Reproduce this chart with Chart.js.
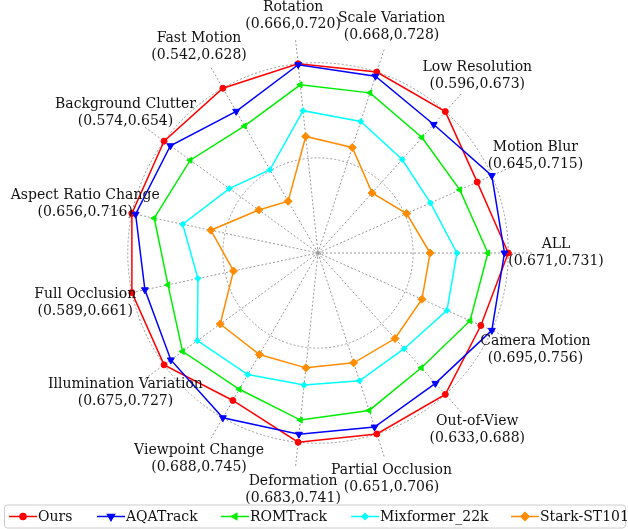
<!DOCTYPE html>
<html>
<head>
<meta charset="utf-8">
<script src="https://cdn.jsdelivr.net/npm/chart.js@4.4.0/dist/chart.umd.min.js"></script>
<style>
    html, body { margin: 0; padding: 0; background: #fff; }
    #wrap { width: 628px; height: 529px; position: relative; }
</style>
</head>
<body>
<div id="wrap"><canvas id="radar"></canvas></div>
<script>
// Attribute axes, clockwise starting from the right (ALL)
const attributes = [
    'ALL', 'Camera Motion', 'Out-of-View', 'Partial Occlusion', 'Deformation',
    'Viewpoint Change', 'Illumination Variation', 'Full Occlusion', 'Aspect Ratio Change',
    'Background Clutter', 'Fast Motion', 'Rotation', 'Scale Variation', 'Low Resolution', 'Motion Blur'
];
const axisRanges = [
    '(0.671,0.731)', '(0.695,0.756)', '(0.633,0.688)', '(0.651,0.706)', '(0.683,0.741)',
    '(0.688,0.745)', '(0.675,0.727)', '(0.589,0.661)', '(0.656,0.716)',
    '(0.574,0.654)', '(0.542,0.628)', '(0.666,0.720)', '(0.668,0.728)', '(0.596,0.673)', '(0.645,0.715)'
];

// Normalised radial position of each tracker on each axis (1 = outer ring)
const ours      = [1.00, 0.937, 1.00, 1.00, 1.00, 0.895, 1.00, 1.00, 1.00, 1.00, 1.00, 1.00, 1.00, 1.00, 0.916];
const aqaTrack  = [0.98, 1.00, 0.922, 0.962, 0.958, 1.00, 0.956, 0.93, 0.98, 0.959, 0.86, 0.995, 0.977, 0.909, 1.00];
const romTrack  = [0.893, 0.875, 0.812, 0.87, 0.883, 0.827, 0.88, 0.806, 0.88, 0.83, 0.771, 0.889, 0.885, 0.817, 0.816];
const mixformer = [0.73, 0.742, 0.677, 0.706, 0.698, 0.738, 0.784, 0.645, 0.727, 0.576, 0.505, 0.752, 0.727, 0.661, 0.647];
const stark     = [0.589, 0.598, 0.605, 0.607, 0.607, 0.616, 0.635, 0.454, 0.576, 0.385, 0.314, 0.616, 0.583, 0.425, 0.51];

const seriesNames = ['Ours', 'AQATrack', 'ROMTrack', 'Mixformer_22k', 'Stark-ST101'];
const seriesData = [ours, aqaTrack, romTrack, mixformer, stark];
const seriesColors = ['#ff0000', '#0000ff', '#00ee00', '#00ffff', '#ff8c00'];
const seriesMarkers = [
    { style: 'circle', radius: 3, rotation: 0 },
    { style: 'triangle', radius: 4, rotation: 180 },
    { style: 'triangle', radius: 3.5, rotation: -90 },
    { style: 'rectRot', radius: 3, rotation: 0 },
    { style: 'rectRot', radius: 4, rotation: 0 },
];

const FONT = '14px "DejaVu Serif", serif';
const LABEL_DIST = 238;

// Two-line axis labels, centred on a fixed radius
const axisLabelPlugin = {
    id: 'axisLabels',
    afterDraw(chart) {
        const scale = chart.scales.r;
        const ctx = chart.ctx;
        ctx.save();
        ctx.font = FONT;
        ctx.fillStyle = '#111';
        ctx.textAlign = 'center';
        ctx.textBaseline = 'middle';
        attributes.forEach((name, i) => {
            const p = scale.getPointPosition(i, LABEL_DIST);
            ctx.fillText(name, p.x, p.y - 8.5);
            ctx.fillText(axisRanges[i], p.x, p.y + 8.5);
        });
        ctx.restore();
    }
};

// Framed legend along the bottom, line + marker handles
const legendPlugin = {
    id: 'boxLegend',
    afterDraw(chart) {
        const ctx = chart.ctx;
        const top = 505, bottom = 528, left = 4.5, right = 625.5;
        ctx.save();
        ctx.strokeStyle = '#cccccc';
        ctx.lineWidth = 1;
        ctx.beginPath();
        ctx.roundRect(left, top, right - left, bottom - top, 3);
        ctx.fillStyle = 'rgba(255,255,255,0.8)';
        ctx.fill();
        ctx.stroke();

        const yMid = (top + bottom) / 2;
        const handleStarts = [9, 97, 221, 351, 511];
        ctx.font = FONT;
        ctx.textBaseline = 'middle';
        ctx.textAlign = 'left';
        seriesNames.forEach((name, i) => {
            const x0 = handleStarts[i];
            const x1 = x0 + 28;
            ctx.strokeStyle = seriesColors[i];
            ctx.lineWidth = 1.5;
            ctx.beginPath();
            ctx.moveTo(x0, yMid);
            ctx.lineTo(x1, yMid);
            ctx.stroke();
            ctx.fillStyle = seriesColors[i];
            Chart.helpers.drawPoint(ctx, {
                pointStyle: seriesMarkers[i].style,
                radius: seriesMarkers[i].radius,
                rotation: seriesMarkers[i].rotation,
                borderWidth: 1
            }, (x0 + x1) / 2, yMid);
            ctx.fillStyle = '#111';
            ctx.fillText(name, x1 + 1, yMid + 1);
        });
        ctx.restore();
    }
};

const datasets = seriesNames.map((name, i) => ({
    label: name,
    data: seriesData[i],
    borderColor: seriesColors[i],
    backgroundColor: seriesColors[i],
    pointBackgroundColor: seriesColors[i],
    pointBorderColor: seriesColors[i],
    pointStyle: seriesMarkers[i].style,
    pointRadius: seriesMarkers[i].radius,
    pointRotation: seriesMarkers[i].rotation,
    pointBorderWidth: 1,
    borderWidth: 1.5,
    fill: false,
    tension: 0,
    order: seriesNames.length - i,
}));

new Chart(document.getElementById('radar'), {
    type: 'radar',
    data: { labels: attributes, datasets },
    options: {
        responsive: true,
        maintainAspectRatio: false,
        animation: false,
        layout: { padding: { top: 38, left: 103, right: 95, bottom: 61 } },
        plugins: {
            legend: { display: false },
            tooltip: { enabled: false },
        },
        scales: {
            r: {
                min: 0,
                max: 1.13,
                startAngle: 90,
                afterBuildTicks: (axis) => {
                    axis.ticks = [{ value: 0 }, { value: 0.015 }, { value: 0.5 }, { value: 1 }];
                },
                ticks: { display: false },
                pointLabels: { display: false },
                grid: {
                    circular: true,
                    color: '#999999',
                    lineWidth: 1,
                },
                border: { dash: [2, 2] },
                angleLines: {
                    color: '#999999',
                    lineWidth: 1,
                    borderDash: [2, 2],
                },
            },
        },
    },
    plugins: [axisLabelPlugin, legendPlugin],
});
</script>
</body>
</html>
